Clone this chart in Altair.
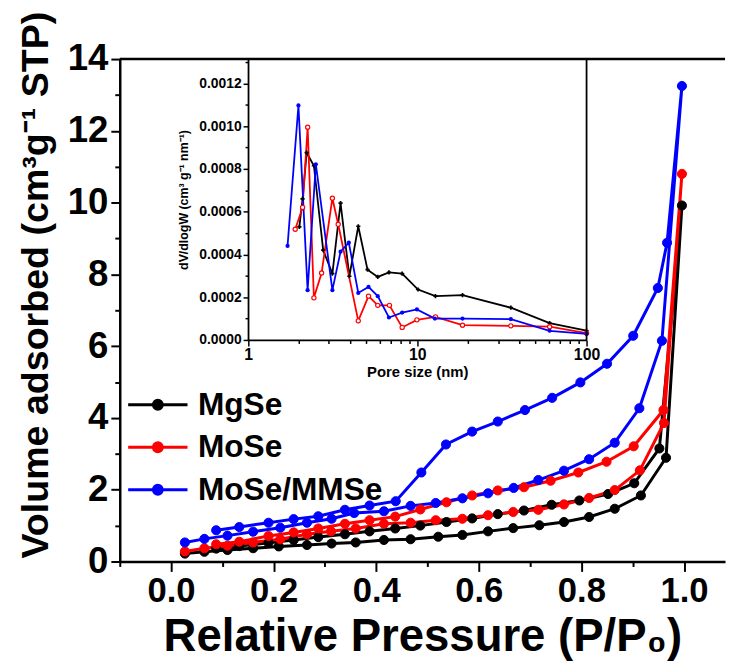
import altair as alt
import pandas as pd

FONT = "Liberation Sans"
SERIES = ["MgSe", "MoSe", "MoSe/MMSe"]
COLORS = ["#000000", "#ff0000", "#0000ff"]
COLOR_OF = dict(zip(SERIES, COLORS))

# ---------------- main isotherms ----------------
mg_ads_p = [0.027, 0.065, 0.11, 0.16, 0.21, 0.265, 0.313, 0.36, 0.415, 0.467, 0.521, 0.568, 0.618, 0.667, 0.718, 0.766, 0.815, 0.865, 0.916, 0.965, 0.996]
mg_ads_v = [0.22, 0.27, 0.32, 0.37, 0.42, 0.46, 0.50, 0.53, 0.60, 0.62, 0.69, 0.74, 0.84, 0.93, 1.01, 1.10, 1.24, 1.47, 1.84, 2.89, 9.92]
mg_des_p = [0.952, 0.903, 0.852, 0.796, 0.742, 0.688, 0.637, 0.587, 0.537, 0.486, 0.437, 0.387, 0.339, 0.287, 0.239, 0.19, 0.133, 0.088]
mg_des_v = [3.15, 2.18, 1.88, 1.70, 1.58, 1.42, 1.32, 1.20, 1.10, 1.00, 0.92, 0.84, 0.76, 0.68, 0.60, 0.52, 0.43, 0.36]

mo_ads_p = [0.027, 0.065, 0.11, 0.16, 0.213, 0.265, 0.312, 0.36, 0.415, 0.467, 0.516, 0.568, 0.618, 0.667, 0.716, 0.766, 0.815, 0.865, 0.914, 0.961, 0.996]
mo_ads_v = [0.28, 0.37, 0.44, 0.53, 0.62, 0.76, 0.84, 0.92, 1.05, 1.08, 1.15, 1.19, 1.29, 1.38, 1.44, 1.59, 1.77, 1.99, 2.54, 3.86, 10.8]
mo_des_p = [0.96, 0.902, 0.849, 0.794, 0.74, 0.688, 0.637, 0.587, 0.537, 0.486, 0.437, 0.387, 0.339, 0.287, 0.239, 0.19, 0.133, 0.088]
mo_des_v = [4.22, 3.21, 2.78, 2.48, 2.25, 2.07, 1.98, 1.84, 1.65, 1.45, 1.25, 1.15, 1.05, 0.92, 0.81, 0.71, 0.55, 0.48]

mm_ads_p = [0.027, 0.065, 0.11, 0.16, 0.213, 0.265, 0.313, 0.357, 0.415, 0.467, 0.516, 0.568, 0.618, 0.668, 0.716, 0.766, 0.815, 0.865, 0.913, 0.957, 0.996]
mm_ads_v = [0.53, 0.63, 0.72, 0.83, 0.94, 1.08, 1.19, 1.35, 1.40, 1.55, 1.63, 1.76, 1.90, 2.05, 2.27, 2.53, 2.85, 3.31, 4.27, 6.15, 13.25]
mm_des_p = [0.967, 0.949, 0.901, 0.85, 0.798, 0.743, 0.69, 0.637, 0.587, 0.536, 0.488, 0.438, 0.387, 0.339, 0.287, 0.239, 0.19, 0.133, 0.088]
mm_des_v = [8.88, 7.62, 6.29, 5.51, 4.99, 4.56, 4.22, 3.90, 3.62, 3.26, 2.48, 1.68, 1.56, 1.44, 1.26, 1.18, 1.08, 0.96, 0.87]

# ---------------- inset pore size distribution ----------------
mg_d = [2.01, 2.1, 2.22, 2.45, 2.78, 3.15, 3.52, 3.97, 4.48, 5.08, 5.84, 6.8, 8.14, 10.1, 12.8, 18.5, 35.7, 60.5, 100]
mg_dv = [0.000529, 0.00066, 0.000876, 0.000815, 0.00042, 0.00031, 0.00064, 0.000298, 0.000532, 0.000329, 0.000295, 0.000316, 0.00031, 0.000236, 0.000205, 0.00021, 0.000151, 0.0000787, 0.0000432]

mo_d = [1.9, 2.1, 2.25, 2.45, 2.72, 3.15, 3.41, 4.48, 5.15, 5.84, 6.85, 8.14, 9.95, 12.8, 18.5, 35.7, 60.5, 100]
mo_dv = [0.000518, 0.00062, 0.000995, 0.000197, 0.000313, 0.000663, 0.000541, 0.0000895, 0.000205, 0.000162, 0.000162, 0.0000586, 0.000094, 0.000108, 0.000069, 0.000066, 0.000062, 0.000032]

mm_d = [1.712, 1.985, 2.249, 2.516, 3.15, 3.52, 3.94, 4.48, 5.15, 5.84, 6.8, 8.14, 9.95, 12.7, 18.5, 35.7, 60.5, 100]
mm_dv = [0.00044, 0.001097, 0.000233, 0.000822, 0.000233, 0.000413, 0.000455, 0.00022, 0.000248, 0.000205, 0.000105, 0.000128, 0.000143, 0.0001, 0.0001, 0.000097, 0.000043, 0.000028]

x_major = [0.0, 0.2, 0.4, 0.6, 0.8, 1.0]
x_minor = [-0.1, 0.1, 0.3, 0.5, 0.7, 0.9]
y_major = [0, 2, 4, 6, 8, 10, 12, 14]
y_minor = [1, 3, 5, 7, 9, 11, 13]
inset_x_major = [1, 10, 100]
inset_x_minor = [2, 3, 4, 5, 6, 7, 8, 9, 20, 30, 40, 50, 60, 70, 80, 90]
inset_y_major = [0.0, 0.0002, 0.0004, 0.0006, 0.0008, 0.0010, 0.0012]
inset_y_minor = [0.0001, 0.0003, 0.0005, 0.0007, 0.0009, 0.0011, 0.0013]

rows = []
for name, ap, av, dp, dv in [
    ("MgSe", mg_ads_p, mg_ads_v, mg_des_p, mg_des_v),
    ("MoSe", mo_ads_p, mo_ads_v, mo_des_p, mo_des_v),
    ("MoSe/MMSe", mm_ads_p, mm_ads_v, mm_des_p, mm_des_v),
]:
    k = 0
    for p, v in list(zip(ap, av)) + list(zip(dp, dv)):
        rows.append({"series": name, "col": COLOR_OF[name], "p": p, "v": v, "k": k})
        k += 1
main_df = pd.DataFrame(rows)

irows = []
for name, ds, vs in [("MgSe", mg_d, mg_dv), ("MoSe", mo_d, mo_dv), ("MoSe/MMSe", mm_d, mm_dv)]:
    for i, (d, v) in enumerate(zip(ds, vs)):
        irows.append({"series": name, "col": COLOR_OF[name], "d": d, "dv": v, "k": i})
inset_df = pd.DataFrame(irows)

cscale = alt.Scale(domain=SERIES, range=COLORS)

W, H = 612, 508
xscale = alt.Scale(domain=[-0.1, 1.08], nice=False, zero=False)
yscale = alt.Scale(domain=[0, 14], nice=False, zero=False)

common = dict(tickColor="black", domainColor="black", labelColor="black", titleColor="black",
              labelFont=FONT, titleFont=FONT, labelFontWeight="bold", titleFontWeight="bold",
              labelFlush=False, labelOverlap=False)

xaxis = alt.Axis(
    orient="bottom", values=x_major, format=".1f", title="Relative Pressure (P/P\u2080)",
    tickSize=10, tickWidth=2, domainWidth=2.5,
    labelFontSize=35, labelPadding=2, titleFontSize=46, titlePadding=7, **common,
)
xaxis_minor = alt.Axis(orient="bottom", values=x_minor, labels=False, title=None, domain=False,
                       tickSize=5, tickWidth=2, tickColor="black")
yaxis = alt.Axis(
    orient="left", values=y_major, title="Volume adsorbed (cm\u00b3g\u207b\u00b9 STP)",
    tickSize=9, tickWidth=2, domainWidth=2.5,
    labelFontSize=37, labelPadding=3, titleFontSize=38, titlePadding=12,
    titleY=228, titleAnchor="middle", **common,
)
yaxis_minor = alt.Axis(orient="left", values=y_minor, labels=False, title=None, domain=False,
                       tickSize=5, tickWidth=2, tickColor="black")

sym = "M-1.5,0H1.5M-0.225,0a0.225,0.225 0 1,0 0.45,0a0.225,0.225 0 1,0 -0.45,0"
leg = alt.Legend(
    title=None, orient="none", legendX=17, legendY=328, direction="vertical",
    symbolType=sym, symbolSize=1600, symbolStrokeWidth=3, symbolOpacity=1,
    labelFont=FONT, labelFontSize=32, labelFontWeight="bold", labelColor="black", labelLimit=0,
    labelOffset=19, rowPadding=5, padding=0,
)

main_lines = alt.Chart(main_df).mark_line(strokeWidth=3).encode(
    x=alt.X("p:Q", scale=xscale, axis=xaxis),
    y=alt.Y("v:Q", scale=yscale, axis=yaxis),
    color=alt.Color("col:N", scale=None), order="k:Q",
)
main_points = alt.Chart(main_df).mark_point(filled=True, size=85, strokeWidth=1, opacity=1).encode(
    x=alt.X("p:Q", scale=xscale, axis=None),
    y=alt.Y("v:Q", scale=yscale, axis=None),
    fill=alt.Fill("series:N", scale=cscale, legend=leg),
    stroke=alt.Stroke("series:N", scale=cscale, legend=leg),
)
top_rule = alt.Chart(pd.DataFrame({"v": [14]})).mark_rule(strokeWidth=2.5, color="black").encode(
    y=alt.Y("v:Q", scale=yscale, axis=None)
)
main_minor = alt.Chart(pd.DataFrame({"p": [0.5], "v": [7]})).mark_point(opacity=0).encode(
    x=alt.X("p:Q", scale=xscale, axis=xaxis_minor),
    y=alt.Y("v:Q", scale=yscale, axis=yaxis_minor),
)
main = alt.layer(main_lines, main_points, top_rule, main_minor).resolve_axis(x="independent", y="independent")

# inset geometry in plot-area pixels
ix0, ix1 = 129.7, 472.0
iy0 = 284.0
iymax = 0.001314
ixscale = alt.Scale(type="log", domain=[1, 100], range=[ix0, ix1], nice=False)
iyscale = alt.Scale(domain=[0, iymax], range=[iy0, 0], nice=False, zero=False)

ixaxis = alt.Axis(
    orient="bottom", offset=-(H - iy0), values=inset_x_major, format="d", title="Pore size (nm)",
    tickSize=6, tickWidth=1.5, domainWidth=1.8,
    labelFontSize=16, labelPadding=1, titleFontSize=15, titlePadding=2, **common,
)
ixaxis_minor = alt.Axis(orient="bottom", offset=-(H - iy0), values=inset_x_minor, labels=False, title=None,
                        domain=False, tickSize=3.5, tickWidth=1.5, tickColor="black")
iyaxis = alt.Axis(
    orient="left", offset=-ix0, values=inset_y_major, format=".4f",
    title="dV/dlogW (cm\u00b3 g\u207b\u00b9 nm\u207b\u00b9)",
    tickSize=5, tickWidth=1.5, domainWidth=1.8,
    labelFontSize=14, labelPadding=2, titleFontSize=12.5, titlePadding=8, **common,
)
iyaxis_minor = alt.Axis(orient="left", offset=-ix0, values=inset_y_minor, labels=False, title=None,
                        domain=False, tickSize=3, tickWidth=1.5, tickColor="black")

IXn = alt.X("d:Q", scale=ixscale, axis=None)
IYn = alt.Y("dv:Q", scale=iyscale, axis=None)
icolor = alt.Color("col:N", scale=None)

inset_lines = alt.Chart(inset_df).mark_line(strokeWidth=1.8).encode(
    x=alt.X("d:Q", scale=ixscale, axis=ixaxis),
    y=alt.Y("dv:Q", scale=iyscale, axis=iyaxis),
    color=icolor, order="k:Q",
)
inset_black = alt.Chart(inset_df).transform_filter("datum.series == 'MgSe'").mark_point(
    filled=True, shape="cross", size=18, opacity=1
).encode(x=IXn, y=IYn, color=icolor)
inset_blue = alt.Chart(inset_df).transform_filter("datum.series == 'MoSe/MMSe'").mark_point(
    filled=True, shape="circle", size=18, opacity=1
).encode(x=IXn, y=IYn, color=icolor)
inset_red = alt.Chart(inset_df).transform_filter("datum.series == 'MoSe'").mark_point(
    filled=False, fill="white", shape="circle", size=18, strokeWidth=1.2, opacity=1
).encode(x=IXn, y=IYn, color=icolor)
inset_rule = alt.Chart(pd.DataFrame({"d": [100], "dv": [0.0], "dv2": [iymax]})).mark_rule(
    strokeWidth=1.8, color="black"
).encode(x=IXn, y=IYn, y2="dv2:Q")
inset_minor = alt.Chart(pd.DataFrame({"d": [10], "dv": [0.0005]})).mark_point(opacity=0).encode(
    x=alt.X("d:Q", scale=ixscale, axis=ixaxis_minor),
    y=alt.Y("dv:Q", scale=iyscale, axis=iyaxis_minor),
)
inset = alt.layer(inset_lines, inset_black, inset_red, inset_blue, inset_rule, inset_minor).resolve_axis(
    x="independent", y="independent"
)

chart = alt.layer(main, inset).resolve_scale(x="independent", y="independent").properties(
    width=W, height=H,
    autosize=alt.AutoSizeParams(type="none"),
    padding={"left": 113, "top": 48, "right": 2, "bottom": 100},
).configure_axis(grid=False).configure_view(stroke=None)

chart.save("out.html", embed_options={"renderer": "svg", "actions": False})
